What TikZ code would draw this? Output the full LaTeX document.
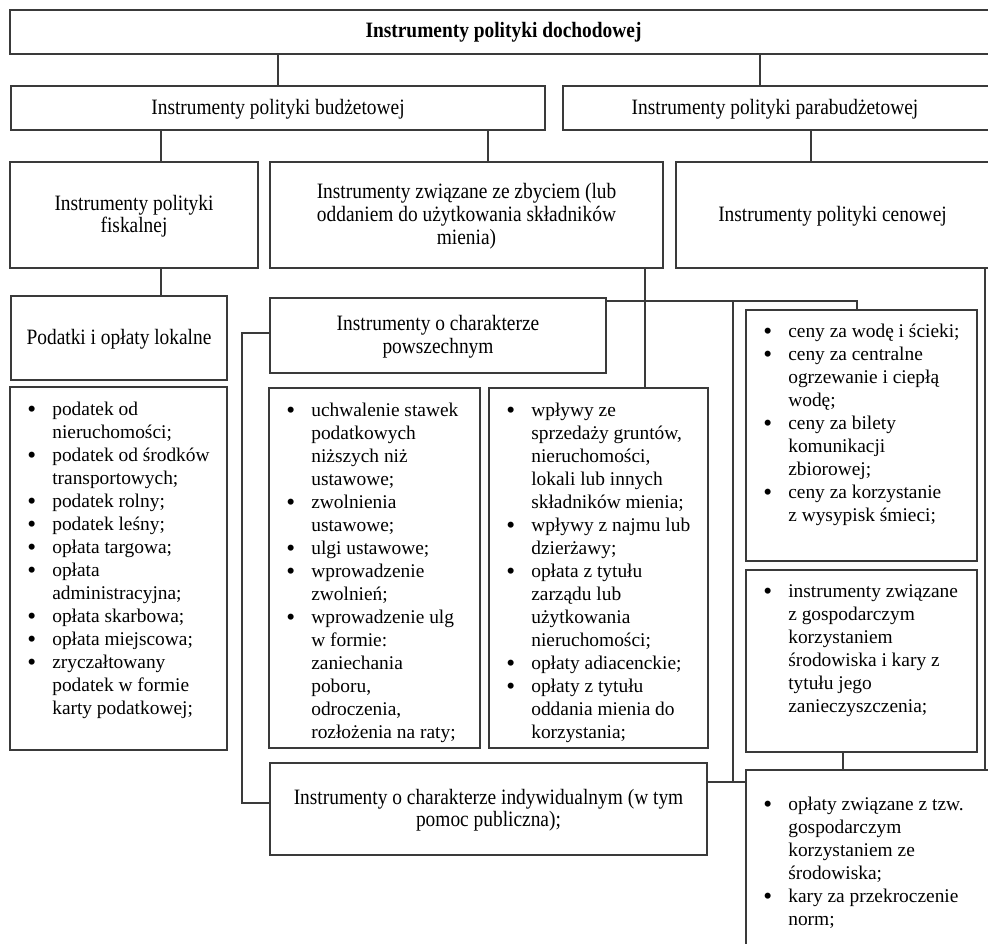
\documentclass[tikz,border=0pt]{standalone}
\usepackage{fontspec}
\setmainfont{Liberation Serif}
\usetikzlibrary{calc,fit}
\newcommand\itm{\makebox[25pt][l]{\raisebox{-1.8pt}{\scalebox{1.3}{\textbullet}}}}
\newcommand\cnt{\hspace*{25pt}}
\newcommand\myfont{\fontsize{19.4}{23}\selectfont}
\newcommand\hdfont{\fontsize{19.4}{20}\selectfont}
\newcommand\hd[1]{\scalebox{1}[1.13]{\begin{tabular}{@{}c@{}}#1\end{tabular}}}
\definecolor{linegray}{HTML}{3A3A3A}
\begin{document}
\begin{tikzpicture}[x=1pt,y=-1pt,
  box/.style={draw=linegray, line width=1.8pt, inner sep=0pt},
  lbl/.style={inner sep=0pt, align=center, font=\hdfont},
  conn/.style={draw=linegray, line width=1.2pt},
  listtxt/.style={anchor=north west, inner sep=0pt, font=\myfont}]
\useasboundingbox (0,0) rectangle (988,943);
\clip (0,0) rectangle (988,943);
\fill[white] (0,0) rectangle (988,943);

% boxes
\node[box, fit={(10,10) (995,54)}] (top) {};
\node[box, fit={(11,86) (545,130)}] (budz) {};
\node[box, fit={(563,86) (995,130)}] (parab) {};
\node[box, fit={(10,162) (258,268)}] (fisk) {};
\node[box, fit={(270,162) (663,268)}] (zbyc) {};
\node[box, fit={(676,162) (995,268)}] (cen) {};
\node[box, fit={(11,296) (227,380)}] (podat) {};
\node[box, fit={(270,298) (606,373)}] (powsz) {};
\node[box, fit={(270,763) (707,855)}] (indyw) {};

\node[box, fit={(10,387) (227,750)}] (podlist) {};
\node[box, fit={(269,388) (480,748)}] (uchw) {};
\node[box, fit={(489,388) (708,748)}] (wplyw) {};
\node[box, fit={(746,310) (977,561)}] (ceny) {};
\node[box, fit={(746,570) (977,752)}] (gosp) {};
\node[box, fit={(746,770) (1000,970)}] (last) {};

% heading labels
\node[lbl] (ltop) at ($(top.center)+(1,1)$) {\hd{\bfseries Instrumenty polityki dochodowej}};
\node[lbl] (lbudz) at ($(budz.center)+(0,2)$) {\hd{Instrumenty polityki budżetowej}};
\node[lbl] (lparab) at ($(parab.center)+(-4,2)$) {\hd{Instrumenty polityki parabudżetowej}};
\node[lbl] (lfisk) at ($(fisk.center)+(0,2)$) {\hd{Instrumenty polityki\\fiskalnej}};
\node[lbl] (lzbyc) at ($(zbyc.center)+(0,2)$) {\hd{Instrumenty związane ze zbyciem (lub\\oddaniem do użytkowania składników\\mienia)}};
\node[lbl] (lcen) at ($(cen.center)+(-3,2)$) {\hd{Instrumenty polityki cenowej}};
\node[lbl] (lpodat) at ($(podat.center)+(0,2)$) {\hd{Podatki i opłaty lokalne}};
\node[lbl] (lpowsz) at ($(powsz.center)+(0,2)$) {\hd{Instrumenty o charakterze\\powszechnym}};
\node[lbl] (lindyw) at ($(indyw.center)+(0,2)$) {\hd{Instrumenty o charakterze indywidualnym (w tym\\pomoc publiczna);}};

% list texts
\node[listtxt] (tpod) at ($(podlist.north west)+(18,13)$) {\begin{tabular}{@{}l@{}}
\itm podatek od\\ \cnt nieruchomości;\\
\itm podatek od środków\\ \cnt transportowych;\\
\itm podatek rolny;\\
\itm podatek leśny;\\
\itm opłata targowa;\\
\itm opłata\\ \cnt administracyjna;\\
\itm opłata skarbowa;\\
\itm opłata miejscowa;\\
\itm zryczałtowany\\ \cnt podatek w formie\\ \cnt karty podatkowej;
\end{tabular}};

\node[listtxt] (tuchw) at ($(uchw.north west)+(18,13)$) {\begin{tabular}{@{}l@{}}
\itm uchwalenie stawek\\ \cnt podatkowych\\ \cnt niższych niż\\ \cnt ustawowe;\\
\itm zwolnienia\\ \cnt ustawowe;\\
\itm ulgi ustawowe;\\
\itm wprowadzenie\\ \cnt zwolnień;\\
\itm wprowadzenie ulg\\ \cnt w formie:\\ \cnt zaniechania\\ \cnt poboru,\\ \cnt odroczenia,\\ \cnt rozłożenia na raty;
\end{tabular}};

\node[listtxt] (twplyw) at ($(wplyw.north west)+(18,13)$) {\begin{tabular}{@{}l@{}}
\itm wpływy ze\\ \cnt sprzedaży gruntów,\\ \cnt nieruchomości,\\ \cnt lokali lub innych\\ \cnt składników mienia;\\
\itm wpływy z najmu lub\\ \cnt dzierżawy;\\
\itm opłata z tytułu\\ \cnt zarządu lub\\ \cnt użytkowania\\ \cnt nieruchomości;\\
\itm opłaty adiacenckie;\\
\itm opłaty z tytułu\\ \cnt oddania mienia do\\ \cnt korzystania;
\end{tabular}};

\node[listtxt] (tceny) at ($(ceny.north west)+(18,12)$) {\begin{tabular}{@{}l@{}}
\itm ceny za wodę i ścieki;\\
\itm ceny za centralne\\ \cnt ogrzewanie i ciepłą\\ \cnt wodę;\\
\itm ceny za bilety\\ \cnt komunikacji\\ \cnt zbiorowej;\\
\itm ceny za korzystanie\\ \cnt z wysypisk śmieci;
\end{tabular}};

\node[listtxt] (tgosp) at ($(gosp.north west)+(18,12)$) {\begin{tabular}{@{}l@{}}
\itm instrumenty związane\\ \cnt z gospodarczym\\ \cnt korzystaniem\\ \cnt środowiska i kary z\\ \cnt tytułu jego\\ \cnt zanieczyszczenia;
\end{tabular}};

\node[listtxt] (tlast) at ($(last.north west)+(18,25)$) {\begin{tabular}{@{}l@{}}
\itm opłaty związane z tzw.\\ \cnt gospodarczym\\ \cnt korzystaniem ze\\ \cnt środowiska;\\
\itm kary za przekroczenie\\ \cnt norm;
\end{tabular}};

% helper coordinates
\coordinate (xa) at (278,0);
\coordinate (xb) at (760,0);
\coordinate (xc) at (161,0);
\coordinate (xd) at (488,0);
\coordinate (xe) at (811,0);
\coordinate (xf) at (645,0);
\coordinate (h1) at (857,301);
\coordinate (v1) at (733,301);
\coordinate (v2) at (733,782);
\coordinate (b1) at (242,333);
\coordinate (b2) at (242,803);
\coordinate (xg) at (843,0);
\coordinate (xr) at (985,0);

% connectors
\draw[conn] (top.south -| xa) -- (budz.north -| xa);
\draw[conn] (top.south -| xb) -- (parab.north -| xb);
\draw[conn] (budz.south -| xc) -- (fisk.north -| xc);
\draw[conn] (budz.south -| xd) -- (zbyc.north -| xd);
\draw[conn] (parab.south -| xe) -- (cen.north -| xe);
\draw[conn] (fisk.south -| xc) -- (podat.north -| xc);
\draw[conn] (zbyc.south -| xf) -- (wplyw.north -| xf);
\draw[conn] (powsz.east |- h1) -- (h1) -- (ceny.north -| h1);
\draw[conn] (v1) -- (v2);
\draw[conn] (indyw.east |- v2) -- (last.west |- v2);
\draw[conn] (powsz.west |- b1) -- (b1) -- (b2) -- (indyw.west |- b2);
\draw[conn] (gosp.south -| xg) -- (last.north -| xg);
\draw[conn] (cen.south -| xr) -- (last.north -| xr);
\end{tikzpicture}
\end{document}
